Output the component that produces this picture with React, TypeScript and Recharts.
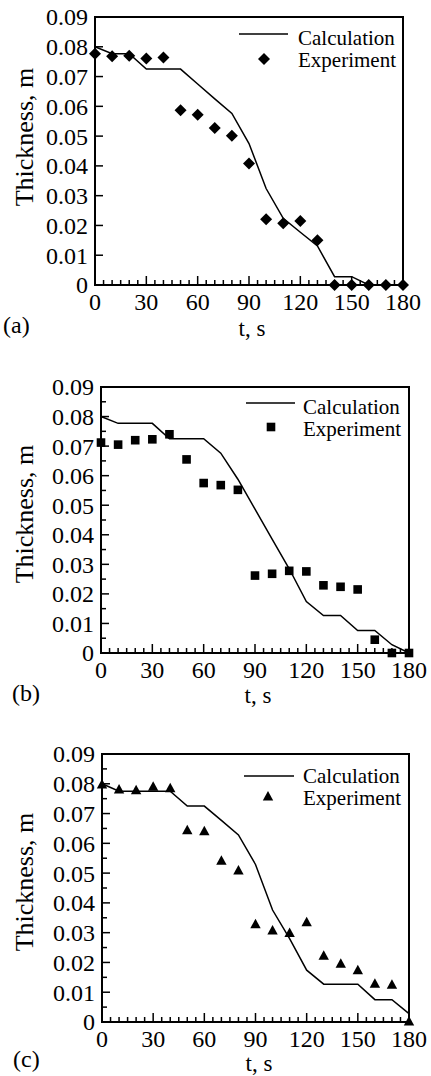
import React from "react";
import { ComposedChart, Line, Scatter, XAxis, YAxis, ReferenceArea, Legend } from "recharts";

const TIME = [0, 10, 20, 30, 40, 50, 60, 70, 80, 90, 100, 110, 120, 130, 140, 150, 160, 170, 180];

const CALC_A = [0.08, 0.0777, 0.0777, 0.0725, 0.0725, 0.0725, 0.0675, 0.0625, 0.0576, 0.0475, 0.0324, 0.0224, 0.0177, 0.0131, 0.0028, 0.0028, 0, 0, 0];
const EXP_A = [0.0777, 0.0768, 0.077, 0.0761, 0.0764, 0.0587, 0.0572, 0.0527, 0.0501, 0.0408, 0.0221, 0.0207, 0.0215, 0.015, 0, 0, 0, 0, 0];

const CALC_B = [0.08, 0.0777, 0.0777, 0.0777, 0.0725, 0.0725, 0.0725, 0.0676, 0.0588, 0.0487, 0.0385, 0.0285, 0.0174, 0.0127, 0.0127, 0.0076, 0.0076, 0.0028, 0];
const EXP_B = [0.0712, 0.0705, 0.072, 0.0723, 0.074, 0.0655, 0.0575, 0.0568, 0.0552, 0.0262, 0.0268, 0.0278, 0.0276, 0.0229, 0.0224, 0.0215, 0.0045, 0, 0];

const CALC_C = [0.08, 0.0775, 0.0775, 0.0775, 0.0775, 0.0725, 0.0725, 0.0677, 0.0628, 0.0529, 0.0376, 0.028, 0.0174, 0.0127, 0.0127, 0.0127, 0.0075, 0.0075, 0.0028];
const EXP_C = [0.0796, 0.0779, 0.0777, 0.0788, 0.0783, 0.0642, 0.0639, 0.054, 0.0507, 0.0327, 0.0306, 0.0297, 0.0333, 0.0221, 0.0194, 0.0172, 0.0127, 0.0123, 0];

const X_TICKS = [0, 5, 10, 15, 20, 25, 30, 35, 40, 45, 50, 55, 60, 65, 70, 75, 80, 85, 90, 95, 100, 105, 110, 115, 120, 125, 130, 135, 140, 145, 150, 155, 160, 165, 170, 175, 180];
const Y_TICKS = [0, 0.01, 0.02, 0.03, 0.04, 0.05, 0.06, 0.07, 0.08, 0.09];
const Y_TICKS_FINE = [0, 0.005, 0.01, 0.015, 0.02, 0.025, 0.03, 0.035, 0.04, 0.045, 0.05, 0.055, 0.06, 0.065, 0.07, 0.075, 0.08, 0.085, 0.09];

const SERIES_NAMES = ["Calculation", "Experiment"];
const X_TITLE = "t, s";
const Y_TITLE = "Thickness, m";

const FONT = '"Liberation Serif", "Times New Roman", serif';
const YAXIS_W = 50;
const XAXIS_H = 30;

const PANELS = [
  {
    letter: "(a)", calc: CALC_A, exp: EXP_A, marker: "diamond", yTicks: Y_TICKS,
    top: 0, height: 345, plot: { left: 95, right: 403, top: 17, bottom: 285 },
    legend: { x1: 239, x2: 288, lineY: 34, mx: 264, my: 59, tx: 298, b1: 45, b2: 67 },
    yTitle: { x: 33, y: 137 }, xTitle: { x: 252, y: 336 }, tag: { x: 3, y: 333 },
  },
  {
    letter: "(b)", calc: CALC_B, exp: EXP_B, marker: "square", yTicks: Y_TICKS_FINE,
    top: 345, height: 370, plot: { left: 101, right: 409, top: 387, bottom: 653 },
    legend: { x1: 246, x2: 295, lineY: 403, mx: 271, my: 427, tx: 303, b1: 414, b2: 436 },
    yTitle: { x: 33, y: 514 }, xTitle: { x: 258, y: 703 }, tag: { x: 12, y: 701 },
  },
  {
    letter: "(c)", calc: CALC_C, exp: EXP_C, marker: "triangle", yTicks: Y_TICKS_FINE,
    top: 715, height: 361, plot: { left: 102, right: 409, top: 754, bottom: 1022 },
    legend: { x1: 244, x2: 294, lineY: 776, mx: 268, my: 797, tx: 303, b1: 783, b2: 805 },
    yTitle: { x: 33, y: 882 }, xTitle: { x: 259, y: 1071 }, tag: { x: 13, y: 1067 },
  },
];

function Marker({ kind, cx, cy }: { kind: string; cx: number; cy: number }) {
  if (kind === "diamond") {
    const r = 6;
    return <polygon points={`${cx},${cy - r} ${cx + r},${cy} ${cx},${cy + r} ${cx - r},${cy}`} fill="#000" />;
  }
  if (kind === "square") {
    const r = 4.3;
    return <rect x={cx - r} y={cy - r} width={2 * r} height={2 * r} fill="#000" />;
  }
  return <polygon points={`${cx},${cy - 6} ${cx + 5.2},${cy + 3.5} ${cx - 5.2},${cy + 3.5}`} fill="#000" />;
}

const XTick = (props: any) => {
  const { x, y, payload } = props;
  const v = payload.value;
  const major = v % 30 === 0;
  return (
    <g>
      <line x1={x} x2={x} y1={y} y2={y - (major ? 9 : 5)} stroke="#000" strokeWidth={1.5} />
      {major && (
        <text x={x} y={y + 25} textAnchor="middle" fontSize={24} fontFamily={FONT} fill="#000">
          {v}
        </text>
      )}
    </g>
  );
};

const YTick = (props: any) => {
  const { x, y, payload } = props;
  const v = payload.value;
  const major = Math.abs(v * 100 - Math.round(v * 100)) < 1e-6;
  return (
    <g>
      <line x1={x} x2={x + (major ? 8 : 5)} y1={y} y2={y} stroke="#000" strokeWidth={1.5} />
      {major && (
        <text x={x - 7} y={y} dy="0.35em" textAnchor="end" fontSize={24} fontFamily={FONT} fill="#000">
          {v === 0 ? "0" : v.toFixed(2)}
        </text>
      )}
    </g>
  );
};

function Panel({ cfg }: { cfg: (typeof PANELS)[number] }) {
  const calcData = TIME.map((t, i) => ({ t, v: cfg.calc[i] }));
  const expData = TIME.map((t, i) => ({ t, v: cfg.exp[i] }));
  const off = cfg.top;
  const margin = {
    top: cfg.plot.top - off,
    bottom: off + cfg.height - cfg.plot.bottom - XAXIS_H,
    left: cfg.plot.left - YAXIS_W,
    right: 431 - cfg.plot.right,
  };
  const lg = cfg.legend;

  const renderLegend = () => (
    <svg width={431} height={cfg.height} style={{ display: "block" }}>
      <line x1={lg.x1} x2={lg.x2} y1={lg.lineY - off} y2={lg.lineY - off} stroke="#000" strokeWidth={1.5} />
      <Marker kind={cfg.marker} cx={lg.mx} cy={lg.my - off} />
      <text x={lg.tx} y={lg.b1 - off} fontSize={21} fontFamily={FONT} fill="#000">{SERIES_NAMES[0]}</text>
      <text x={lg.tx} y={lg.b2 - off} fontSize={21} fontFamily={FONT} fill="#000">{SERIES_NAMES[1]}</text>
    </svg>
  );

  return (
    <div style={{ position: "absolute", top: off, left: 0 }}>
      <ComposedChart width={431} height={cfg.height} margin={margin}>
        <XAxis
          dataKey="t"
          type="number"
          domain={[0, 180]}
          ticks={X_TICKS}
          interval={0}
          axisLine={false}
          tickLine={false}
          tickSize={0}
          tickMargin={0}
          height={XAXIS_H}
          tick={<XTick />}
          label={() => (
            <g>
              <text x={cfg.xTitle.x} y={cfg.xTitle.y - off} textAnchor="middle" fontSize={23} fontFamily={FONT} fill="#000">{X_TITLE}</text>
              <text x={cfg.tag.x} y={cfg.tag.y - off} fontSize={24} fontFamily={FONT} fill="#000">{cfg.letter}</text>
            </g>
          )}
        />
        <YAxis
          type="number"
          domain={[0, 0.09]}
          ticks={cfg.yTicks}
          interval={0}
          axisLine={false}
          tickLine={false}
          tickSize={0}
          tickMargin={0}
          width={YAXIS_W}
          tick={<YTick />}
          label={() => (
            <text
              x={cfg.yTitle.x}
              y={cfg.yTitle.y - off}
              transform={`rotate(-90 ${cfg.yTitle.x} ${cfg.yTitle.y - off})`}
              textAnchor="middle"
              fontSize={26}
              fontFamily={FONT}
              fill="#000"
            >
              {Y_TITLE}
            </text>
          )}
        />
        <ReferenceArea x1={0} x2={180} y1={0} y2={0.09} fill="none" stroke="#000" strokeWidth={2} />
        <Line data={calcData} dataKey="v" type="linear" stroke="#000" strokeWidth={1.5} dot={false} isAnimationActive={false} />
        <Scatter
          data={expData}
          dataKey="v"
          fill="#000"
          isAnimationActive={false}
          shape={(p: any) => <Marker kind={cfg.marker} cx={p.cx} cy={p.cy} />}
        />
        <Legend
          layout="vertical"
          align="center"
          verticalAlign="middle"
          content={renderLegend}
          wrapperStyle={{ left: 0, top: 0, width: 431, height: cfg.height, pointerEvents: "none" }}
        />
      </ComposedChart>
    </div>
  );
}

export default function App() {
  return (
    <div style={{ position: "relative", width: 431, height: 1076, background: "#fff" }}>
      <style>{"body{margin:0}"}</style>
      {PANELS.map((cfg) => (
        <Panel key={cfg.letter} cfg={cfg} />
      ))}
    </div>
  );
}
